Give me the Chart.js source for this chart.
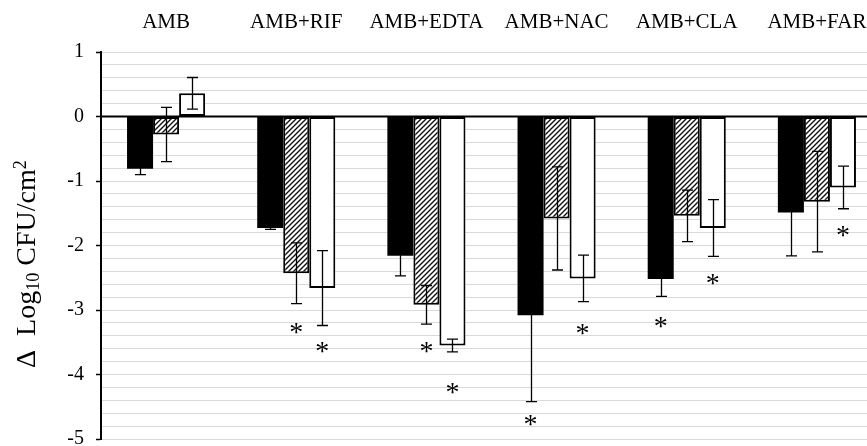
<!DOCTYPE html>
<html>
<head>
<meta charset="utf-8">
<script src="https://cdn.jsdelivr.net/npm/chart.js@4/dist/chart.umd.min.js"></script>
<style>
  html, body { margin: 0; padding: 0; background: #fff; overflow: hidden; width: 867px; height: 446px; }
  #wrap { position: absolute; left: 0; top: 0; width: 884px; height: 446px; }
</style>
</head>
<body>
<div id="wrap"><canvas id="c" width="884" height="446"></canvas></div>
<script>
// ---- data ----
const categories = ['AMB', 'AMB+RIF', 'AMB+EDTA', 'AMB+NAC', 'AMB+CLA', 'AMB+FAR'];
const blackValues   = [-0.81, -1.73, -2.16, -3.08, -2.52, -1.49];
const blackErrors   = [0.09, 0.02, 0.31, 1.34, 0.27, 0.67];
const hatchedValues = [-0.28, -2.43, -2.92, -1.58, -1.54, -1.32];
const hatchedErrors = [0.42, 0.47, 0.30, 0.80, 0.40, 0.78];
const whiteValues   = [0.36, -2.66, -3.55, -2.51, -1.73, -1.10];
const whiteErrors   = [0.245, 0.58, 0.10, 0.36, 0.44, 0.33];
// asterisk positions (value on the y axis), null = no asterisk
const blackStars   = [null, null, null, -4.72, -3.20, null];
const hatchedStars = [null, -3.29, -3.58, null, null, null];
const whiteStars   = [null, -3.58, -4.22, -3.30, -2.53, -1.79];
const yMin = -5, yMax = 1, yStep = 0.2;

const errorSets = [blackErrors, hatchedErrors, whiteErrors];
const starSets = [blackStars, hatchedStars, whiteStars];

// hatch pattern
function makeHatch() {
  const s = 5;
  const p = document.createElement('canvas');
  p.width = s; p.height = s;
  const g = p.getContext('2d');
  g.fillStyle = '#fff'; g.fillRect(0, 0, s, s);
  g.strokeStyle = '#111'; g.lineWidth = 1.4;
  g.beginPath();
  g.moveTo(-1, s + 1); g.lineTo(s + 1, -1);
  g.moveTo(-1, 1); g.lineTo(1, -1);
  g.moveTo(s - 1, s + 1); g.lineTo(s + 1, s - 1);
  g.stroke();
  return document.getElementById('c').getContext('2d').createPattern(p, 'repeat');
}

const FONT = "'Liberation Serif', 'Times New Roman', serif";

const overlay = {
  id: 'overlay',
  afterDatasetsDraw(chart) {
    const ctx = chart.ctx, y = chart.scales.y, area = chart.chartArea;
    ctx.save();
    // zero line
    const y0 = y.getPixelForValue(0);
    ctx.strokeStyle = '#000'; ctx.lineWidth = 2;
    ctx.beginPath(); ctx.moveTo(area.left, y0); ctx.lineTo(area.right + 5, y0); ctx.stroke();
    // error bars
    ctx.lineWidth = 1.3;
    chart.data.datasets.forEach((ds, di) => {
      const meta = chart.getDatasetMeta(di);
      meta.data.forEach((el, i) => {
        const v = ds.data[i], e = errorSets[di][i];
        if (v == null || e == null) return;
        const yh = y.getPixelForValue(v + e), yl = y.getPixelForValue(v - e);
        const x = Math.round(el.x) + 0.5;
        ctx.beginPath();
        ctx.moveTo(x, yh); ctx.lineTo(x, yl);
        ctx.moveTo(x - 5.5, yh); ctx.lineTo(x + 5.5, yh);
        ctx.moveTo(x - 5.5, yl); ctx.lineTo(x + 5.5, yl);
        ctx.stroke();
      });
    });
    // asterisks
    ctx.fillStyle = '#000';
    ctx.font = '28px ' + FONT;
    ctx.textAlign = 'center';
    ctx.textBaseline = 'alphabetic';
    const m = ctx.measureText('*');
    const off = (m.actualBoundingBoxAscent - m.actualBoundingBoxDescent) / 2;
    chart.data.datasets.forEach((ds, di) => {
      const meta = chart.getDatasetMeta(di);
      meta.data.forEach((el, i) => {
        const s = starSets[di][i];
        if (s == null) return;
        ctx.fillText('*', el.x, y.getPixelForValue(s) + off);
      });
    });
    ctx.restore();
  },
  afterDraw(chart) {
    // y axis title with subscript / superscript
    const ctx = chart.ctx;
    const size = 28;
    const parts = [
      { t: '\u0394  Log', s: size, dy: 0 },
      { t: '10', s: size * 0.65, dy: size * 0.14 },
      { t: ' CFU/cm', s: size, dy: 0 },
      { t: '2', s: size * 0.65, dy: -size * 0.33 }
    ];
    ctx.save();
    let total = 0;
    parts.forEach(p => { ctx.font = p.s + 'px ' + FONT; p.w = ctx.measureText(p.t).width; total += p.w; });
    const cy = 264;
    ctx.translate(35, cy + total / 2);
    ctx.rotate(-Math.PI / 2);
    ctx.fillStyle = '#000';
    ctx.textBaseline = 'alphabetic';
    ctx.textAlign = 'left';
    let x = 0;
    parts.forEach(p => { ctx.font = p.s + 'px ' + FONT; ctx.fillText(p.t, x, p.dy); x += p.w; });
    ctx.restore();
  }
};

const isInt = v => Math.abs(v - Math.round(v)) < 1e-6;

new Chart(document.getElementById('c'), {
  type: 'bar',
  data: {
    labels: categories,
    datasets: [
      { data: blackValues, backgroundColor: '#000', borderColor: '#000', borderWidth: 0 },
      { data: hatchedValues, backgroundColor: makeHatch(), borderColor: '#000', borderWidth: 2, borderSkipped: false },
      { data: whiteValues, backgroundColor: '#fff', borderColor: '#000', borderWidth: 2, borderSkipped: false }
    ]
  },
  options: {
    responsive: false,
    maintainAspectRatio: false,
    animation: false,
    devicePixelRatio: 1,
    layout: { autoPadding: false, padding: { left: 0, right: 2, top: 0, bottom: 7 } },
    plugins: { legend: { display: false }, tooltip: { enabled: false }, title: { display: false } },
    datasets: { bar: { categoryPercentage: 0.6, barPercentage: 1.0 } },
    scales: {
      x: {
        position: 'top',
        grid: { display: false, drawTicks: false },
        border: { display: false },
        ticks: { color: '#000', font: { family: FONT, size: 21 }, padding: 17, maxRotation: 0, autoSkip: false },
        afterFit(s) { s.height = 52; s.paddingLeft = 0; s.paddingRight = 0; }
      },
      y: {
        min: yMin, max: yMax,
        grid: {
          color: ctx => (ctx.tick && isInt(ctx.tick.value) && Math.round(ctx.tick.value) === 0) ? 'rgba(0,0,0,0)' : '#d9d9d9',
          lineWidth: 1,
          tickLength: 5,
          tickWidth: 1.5,
          tickColor: ctx => (ctx.tick && isInt(ctx.tick.value)) ? '#000' : 'rgba(0,0,0,0)'
        },
        border: { display: true, color: '#000', width: 2 },
        ticks: {
          stepSize: yStep,
          autoSkip: false,
          maxTicksLimit: 100,
          color: '#000',
          padding: 12,
          font: { family: FONT, size: 20 },
          callback: v => isInt(v) ? String(Math.round(v)) : ''
        },
        afterFit(s) { s.width = 101; s.paddingTop = 0; s.paddingBottom = 0; }
      }
    }
  },
  plugins: [overlay]
});
</script>
</body>
</html>
